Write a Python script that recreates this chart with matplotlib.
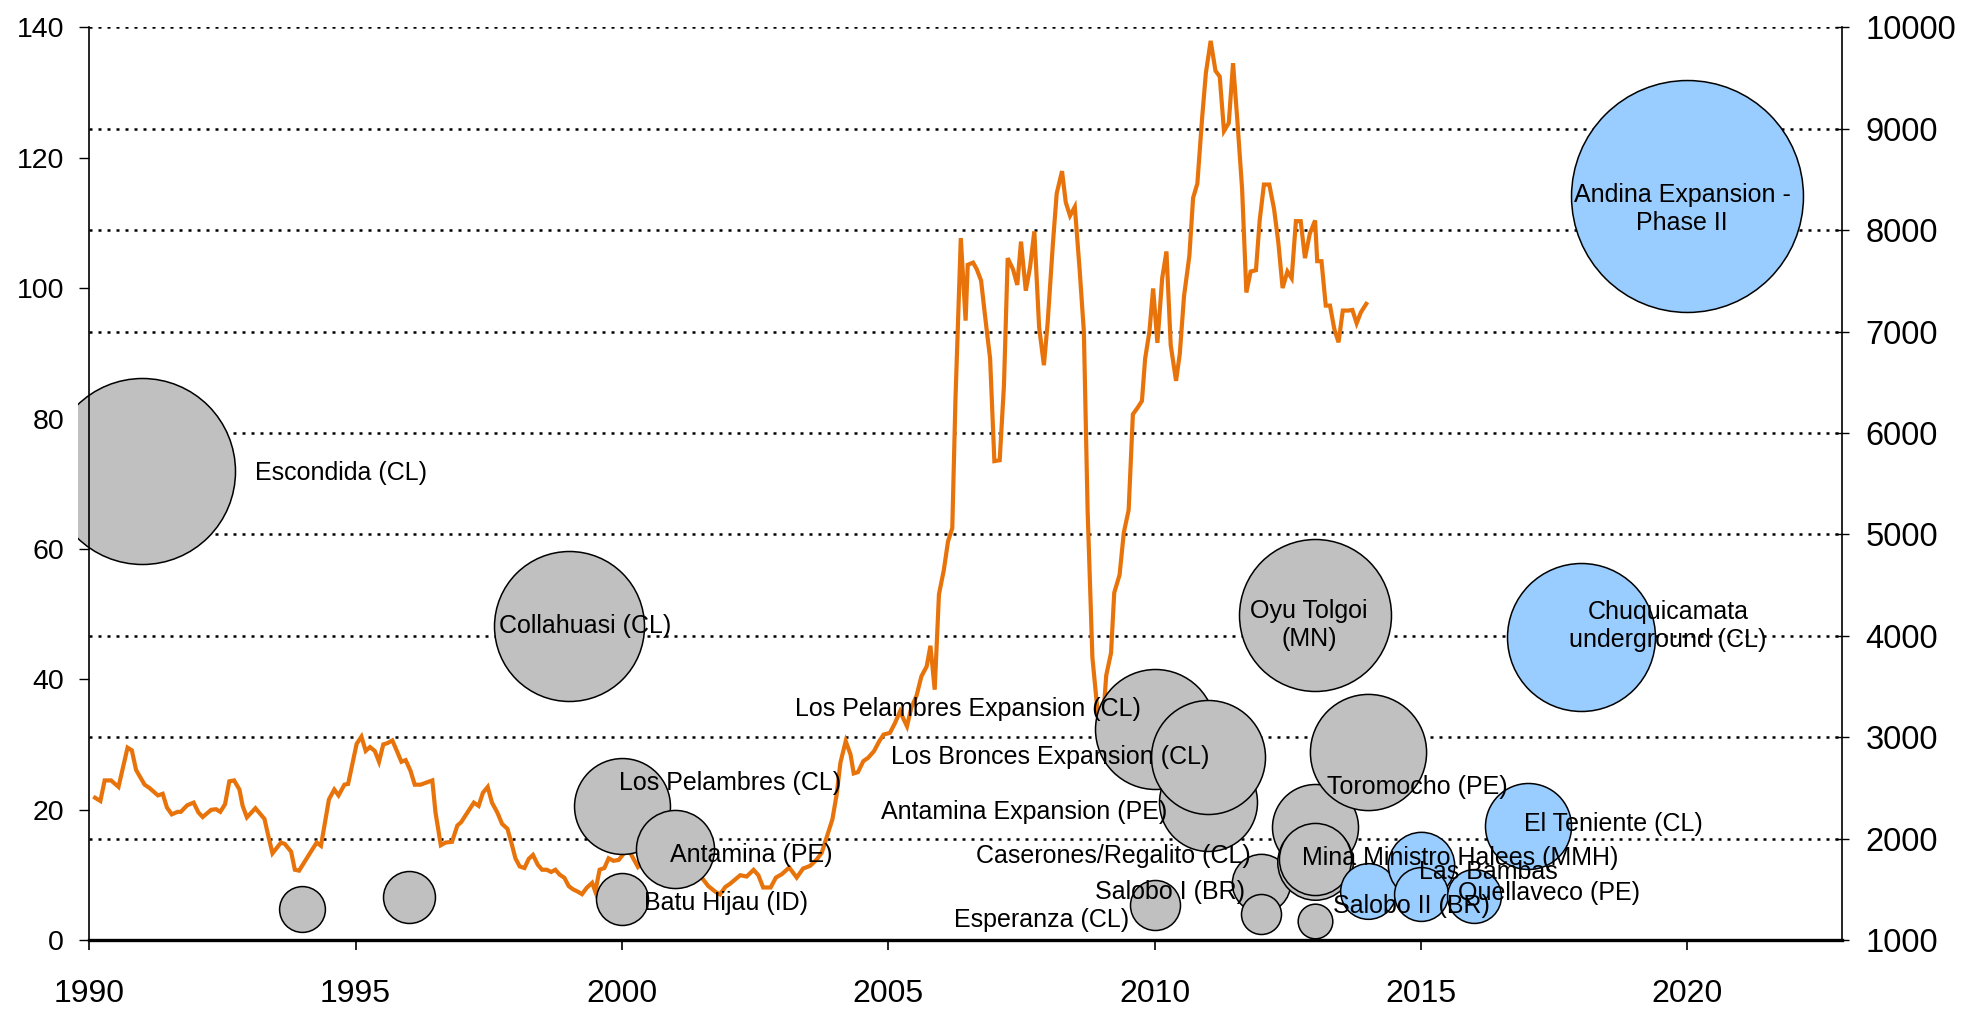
import numpy as np
import matplotlib.pyplot as plt
from matplotlib.transforms import Bbox, TransformedBbox

plt.rcParams['font.family'] = ['Liberation Sans', 'DejaVu Sans']

# copper price, US$/t (right axis)
price_year = [1990.11, 1990.21, 1990.29, 1990.41, 1990.55, 1990.72, 1990.80, 1990.88, 1991.04, 1991.13,
              1991.29, 1991.38, 1991.46, 1991.55, 1991.66, 1991.72, 1991.84, 1991.96, 1992.05, 1992.13,
              1992.29, 1992.38, 1992.46, 1992.55, 1992.63, 1992.72, 1992.82, 1992.88, 1992.96, 1993.12,
              1993.29, 1993.36, 1993.44, 1993.60, 1993.67, 1993.79, 1993.86, 1993.94, 1994.13, 1994.27,
              1994.35, 1994.50, 1994.60, 1994.68, 1994.79, 1994.86, 1994.93, 1995.02, 1995.11, 1995.19,
              1995.27, 1995.36, 1995.44, 1995.52, 1995.60, 1995.69, 1995.77, 1995.86, 1995.94, 1996.03,
              1996.11, 1996.22, 1996.44, 1996.50, 1996.60, 1996.69, 1996.81, 1996.91, 1996.98, 1997.10,
              1997.22, 1997.31, 1997.39, 1997.48, 1997.56, 1997.66, 1997.75, 1997.85, 1997.92, 1998.00,
              1998.08, 1998.17, 1998.25, 1998.33, 1998.42, 1998.50, 1998.59, 1998.67, 1998.75, 1998.83,
              1998.92, 1999.00, 1999.08, 1999.17, 1999.25, 1999.34, 1999.44, 1999.50, 1999.58, 1999.67,
              1999.75, 1999.84, 1999.94, 2000.06, 2000.16, 2000.30, 2000.45, 2000.60, 2000.75, 2000.90,
              2001.05, 2001.20, 2001.35, 2001.50, 2001.62, 2001.75, 2001.84, 2001.94, 2002.03, 2002.22,
              2002.34, 2002.47, 2002.56, 2002.65, 2002.79, 2002.89, 2003.00, 2003.14, 2003.28, 2003.40,
              2003.53, 2003.65, 2003.75, 2003.85, 2003.95, 2004.03, 2004.10, 2004.20, 2004.29, 2004.35,
              2004.43, 2004.53, 2004.62, 2004.73, 2004.83, 2004.91, 2005.03, 2005.12, 2005.22, 2005.29,
              2005.35, 2005.43, 2005.53, 2005.62, 2005.72, 2005.79, 2005.87, 2005.95, 2006.04, 2006.12,
              2006.20, 2006.26, 2006.36, 2006.45, 2006.49, 2006.59, 2006.66, 2006.74, 2006.83, 2006.91,
              2006.99, 2007.09, 2007.17, 2007.24, 2007.34, 2007.42, 2007.49, 2007.58, 2007.66, 2007.74,
              2007.83, 2007.92, 2007.99, 2008.09, 2008.16, 2008.26, 2008.33, 2008.41, 2008.50, 2008.59,
              2008.67, 2008.74, 2008.83, 2008.91, 2008.97, 2009.04, 2009.09, 2009.18, 2009.24, 2009.34,
              2009.42, 2009.51, 2009.59, 2009.68, 2009.76, 2009.82, 2009.90, 2009.97, 2010.05, 2010.14,
              2010.22, 2010.30, 2010.40, 2010.47, 2010.55, 2010.65, 2010.72, 2010.80, 2010.89, 2010.96,
              2011.05, 2011.14, 2011.22, 2011.30, 2011.39, 2011.47, 2011.55, 2011.64, 2011.72, 2011.80,
              2011.90, 2011.97, 2012.05, 2012.15, 2012.24, 2012.32, 2012.40, 2012.49, 2012.57, 2012.65,
              2012.74, 2012.82, 2012.91, 2013.01, 2013.05, 2013.13, 2013.21, 2013.29, 2013.37, 2013.45,
              2013.53, 2013.63, 2013.71, 2013.79, 2013.87, 2013.97]
price = [2403, 2371, 2574, 2574, 2510, 2897, 2871, 2677, 2532, 2500,
         2426, 2442, 2306, 2239, 2264, 2264, 2329, 2355, 2258, 2213,
         2284, 2290, 2264, 2339, 2565, 2574, 2484, 2323, 2210, 2300,
         2194, 2032, 1855, 1961, 1948, 1871, 1693, 1684, 1845, 1961,
         1929, 2387, 2484, 2426, 2532, 2539, 2710, 2935, 3006, 2865,
         2903, 2865, 2758, 2929, 2942, 2968, 2871, 2758, 2774, 2670,
         2532, 2532, 2574, 2258, 1935, 1961, 1968, 2129, 2161, 2258,
         2355, 2323, 2452, 2510, 2355, 2258, 2145, 2097, 1968, 1806,
         1726, 1710, 1800, 1839, 1742, 1693, 1693, 1671, 1693, 1645,
         1613, 1532, 1500, 1477, 1452, 1516, 1564, 1477, 1693, 1710,
         1806, 1781, 1790, 1871, 1855, 1720, 1790, 1830, 1900, 1830,
         1760, 1720, 1680, 1613, 1532, 1477, 1450, 1523, 1555, 1639,
         1626, 1692, 1639, 1518, 1518, 1616, 1649, 1715, 1616, 1705,
         1731, 1790, 1862, 2026, 2190, 2436, 2748, 2961, 2830, 2643,
         2656, 2764, 2797, 2862, 2961, 3026, 3043, 3135, 3256, 3174,
         3108, 3289, 3410, 3600, 3699, 3902, 3469, 4410, 4645, 4931,
         5063, 6339, 7923, 7109, 7659, 7681, 7615, 7505, 7087, 6735,
         5723, 5732, 6471, 7725, 7615, 7461, 7888, 7404, 7637, 7989,
         7043, 6669, 7087, 7879, 8363, 8583, 8275, 8143, 8231, 7615,
         6999, 5239, 3787, 3347, 3100, 3250, 3611, 3831, 4425, 4601,
         5019, 5239, 6185, 6251, 6317, 6735, 6999, 7426, 6889, 7527,
         7791, 6867, 6515, 6779, 7351, 7747, 8319, 8460, 9111, 9551,
         9868, 9573, 9516, 8979, 9058, 9648, 9089, 8407, 7386, 7593,
         7606, 8099, 8451, 8451, 8209, 7879, 7430, 7593, 7527, 8090,
         8090, 7725, 7965, 8097, 7695, 7695, 7257, 7257, 7027, 6895,
         7208, 7208, 7214, 7083, 7191, 7274]

# mine projects (left axis): start year, cost index, capacity kt/yr, planned or not
proj_name = ['Escondida (CL)', '', '', 'Collahuasi (CL)', 'Los Pelambres (CL)', 'Batu Hijau (ID)',
             'Antamina (PE)', 'Los Pelambres Expansion (CL)', 'Salobo I (BR)', 'Antamina Expansion (PE)',
             'Los Bronces Expansion (CL)', 'Caserones/Regalito (CL)', 'Esperanza (CL)', '', '',
             'Mina Ministro Halees (MMH)', '', 'Oyu Tolgoi\n(MN)', 'Toromocho (PE)', 'Salobo II (BR)',
             'Las Bambas', '', 'Quellaveco (PE)', 'El Teniente (CL)', 'Chuquicamata\nunderground (CL)',
             'Andina Expansion -\nPhase II']
proj_year = [1991, 1994, 1996, 1999, 2000, 2000, 2001, 2010, 2010, 2011, 2011, 2012, 2012, 2013, 2013,
             2013, 2013, 2013, 2014, 2014, 2015, 2015, 2016, 2017, 2018, 2020]
proj_value = [72.0, 4.8, 6.6, 48.2, 20.5, 6.3, 14.0, 32.4, 5.4, 21.2, 28.1, 8.75, 4.0, 17.3, 12.0,
              12.4, 2.9, 49.9, 28.9, 7.5, 11.5, 7.0, 6.8, 17.5, 46.5, 114.1]
proj_capacity = [346, 21, 27, 225, 92, 27, 61, 144, 25, 96, 130, 34, 16, 74, 57,
                 52, 12, 231, 135, 31, 44, 29, 29, 74, 219, 538]
proj_planned = [0, 0, 0, 0, 0, 0, 0, 0, 0, 0, 0, 0, 0, 0, 0,
                0, 0, 0, 0, 1, 1, 1, 1, 1, 1, 1]

# where each label sits (data coords of label centre)
label_pos = {
    'Escondida (CL)': (1993.11, 71.7),
    'Collahuasi (CL)': (1999.30, 48.2),
    'Los Pelambres (CL)': (2002.02, 24.1),
    'Batu Hijau (ID)': (2001.96, 5.7),
    'Antamina (PE)': (2002.43, 13.0),
    'Los Pelambres Expansion (CL)': (2006.50, 35.4),
    'Salobo I (BR)': (2010.29, 7.4),
    'Antamina Expansion (PE)': (2007.54, 19.7),
    'Los Bronces Expansion (CL)': (2008.03, 28.1),
    'Caserones/Regalito (CL)': (2009.22, 12.9),
    'Esperanza (CL)': (2007.88, 3.1),
    'Mina Ministro Halees (MMH)': (2015.73, 12.6),
    'Oyu Tolgoi\n(MN)': (2012.90, 48.3),
    'Toromocho (PE)': (2014.93, 23.4),
    'Salobo II (BR)': (2014.81, 5.2),
    'Las Bambas': (2016.27, 10.5),
    'Quellaveco (PE)': (2017.40, 7.2),
    'El Teniente (CL)': (2018.60, 17.8),
    'Chuquicamata\nunderground (CL)': (2019.63, 48.2),
    'Andina Expansion -\nPhase II': (2019.90, 112.1),
}

fig = plt.figure(figsize=(19.69, 10.10), dpi=100)
ax = fig.add_axes([0.0453, 0.0693, 0.8902, 0.9035])
ax2 = ax.twinx()
ax.set_zorder(ax2.get_zorder() + 1)
ax.patch.set_visible(False)

# price line + dotted grid on the right axis
ax2.set_axisbelow(True)
ax2.yaxis.grid(True, color='black', linestyle=(0, (1.2, 2.4)), linewidth=1.8)
ax2.plot(price_year, price, color='#E8730A', linewidth=3.0, solid_joinstyle='miter')
ax2.set_ylim(1000, 10000)
ax2.set_yticks(range(1000, 10001, 1000))

# bubbles
clip = TransformedBbox(Bbox([[1989.79, -20], [2030, 200]]), ax.transData)
for i in range(len(proj_name)):
    col = '#99CCFF' if proj_planned[i] else '#C0C0C0'
    sc = ax.scatter(proj_year[i], proj_value[i], s=proj_capacity[i] * 51.84, color=col,
                    edgecolors='black', linewidths=1.1, zorder=2 + i * 0.01)
    sc.set_clip_box(clip)

for name, (x, y) in label_pos.items():
    ha = 'left' if name == 'Escondida (CL)' else 'center'
    ax.text(x, y, name, ha=ha, va='center', fontsize=18, zorder=10, linespacing=1.2)

ax.set_xlim(1990, 2022.9)
ax2.set_xlim(1990, 2022.9)
ax.set_ylim(0, 140)
ax.set_xticks(range(1990, 2021, 5))
ax.set_yticks(range(0, 141, 20))

ax.tick_params(axis='y', direction='out', length=7, width=1, labelsize=20.5, pad=11)
ax.tick_params(axis='x', direction='out', length=7, width=1.2, labelsize=23, pad=21)
ax2.tick_params(axis='y', direction='inout', length=10, width=1, labelsize=23.5, pad=12)

for s in ['top', 'right']:
    ax.spines[s].set_visible(False)
for s in ['top', 'left', 'bottom']:
    ax2.spines[s].set_visible(False)
ax.spines['bottom'].set_linewidth(2.4)
ax.spines['left'].set_linewidth(1.2)
ax2.spines['right'].set_linewidth(1.2)

plt.savefig('out.png', dpi=100)
